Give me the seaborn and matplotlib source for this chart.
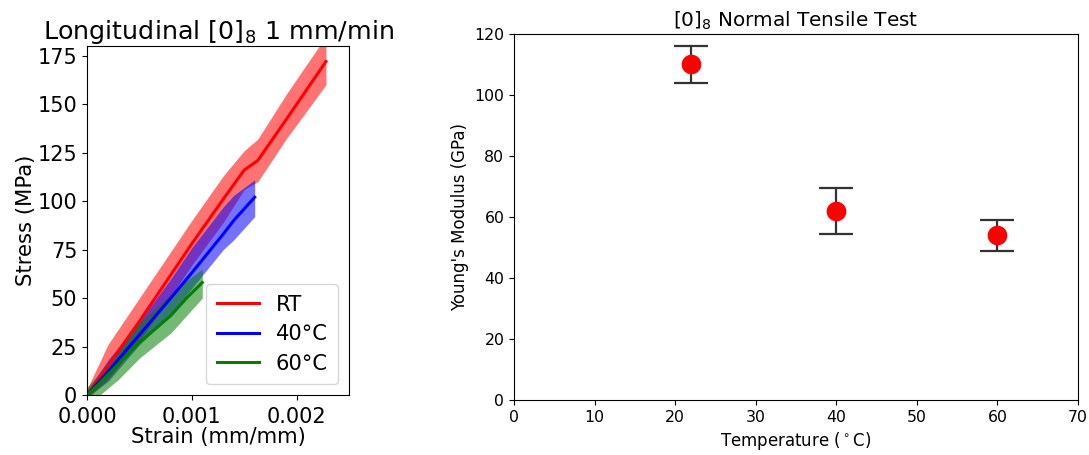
import numpy as np
import pandas as pd
import matplotlib
matplotlib.use("Agg")
import matplotlib.pyplot as plt
import seaborn as sns

# ---- Left panel data: stress-strain curves (mean and band) ----
rt_strain = [0.0, 0.0002, 0.0005, 0.0008, 0.0010, 0.0013, 0.0015, 0.00163, 0.0019, 0.00228]
rt_mean   = [0.0, 15.0, 38.0, 62.0, 78.0, 101.0, 116.0, 121.0, 142.0, 172.0]
rt_upper  = [3.0, 26.0, 50.0, 74.0, 90.0, 113.0, 126.0, 132.0, 155.0, 185.0]
rt_lower  = [-2.0, 8.0, 28.0, 51.0, 67.0, 89.0, 106.0, 110.0, 132.0, 160.0]

t40_strain = [0.0, 0.0002, 0.0005, 0.0008, 0.0010, 0.0013, 0.0014, 0.0016]
t40_mean   = [0.0, 12.0, 31.0, 50.0, 63.0, 83.0, 90.0, 102.0]
t40_upper  = [2.0, 18.0, 38.0, 60.0, 76.0, 97.0, 103.0, 111.0]
t40_lower  = [-1.0, 7.0, 26.0, 42.0, 55.0, 75.0, 80.0, 92.0]

t60_strain = [0.0, 0.0001, 0.0003, 0.0005, 0.0008, 0.00095, 0.0011]
t60_mean   = [0.0, 5.0, 16.0, 27.0, 41.0, 50.0, 58.0]
t60_upper  = [4.0, 10.0, 24.0, 37.0, 52.0, 59.0, 65.0]
t60_lower  = [-3.0, -1.0, 8.0, 19.0, 32.0, 41.0, 50.0]

curve_labels = ["RT", "40°C", "60°C"]
curve_colors = ["red", "blue", "green"]

# ---- Right panel data: Young's modulus vs temperature ----
temperature = [22, 40, 60]
modulus     = [110.0, 62.0, 54.0]
modulus_err = [6.0, 7.5, 5.1]

fig = plt.figure(figsize=(10.89, 4.55), dpi=100)
ax1 = fig.add_axes([0.0799, 0.1319, 0.2406, 0.767])
ax2 = fig.add_axes([0.472, 0.1209, 0.5179, 0.8044])

curves = [
    (rt_strain, rt_mean, rt_upper, rt_lower),
    (t40_strain, t40_mean, t40_upper, t40_lower),
    (t60_strain, t60_mean, t60_upper, t60_lower),
]
for (xs, m, up, lo), lab, col in zip(curves, curve_labels, curve_colors):
    df = pd.DataFrame({"strain": xs, "stress": m})
    ax1.fill_between(xs, lo, up, color=col, alpha=0.55, linewidth=0)
    sns.lineplot(data=df, x="strain", y="stress", ax=ax1, color=col,
                 linewidth=2.2, label=lab)

ax1.set_xlim(0, 0.0025)
ax1.set_ylim(0, 180)
ax1.set_xticks([0, 0.001, 0.002])
ax1.set_xticklabels(["0.000", "0.001", "0.002"])
ax1.set_yticks([0, 25, 50, 75, 100, 125, 150, 175])
ax1.tick_params(labelsize=15)
ax1.tick_params(axis="x", pad=5)
ax1.set_xlabel("Strain (mm/mm)", fontsize=15.2, labelpad=0)
ax1.set_ylabel("Stress (MPa)", fontsize=15.2, labelpad=1)
ax1.set_title("Longitudinal [0]$_8$ 1 mm/min", fontsize=18.3, pad=3)
ax1.legend(loc="lower right", fontsize=15.2, handlelength=2.0, borderpad=0.5,
           labelspacing=0.45, handletextpad=0.8)

df2 = pd.DataFrame({"T": temperature, "E": modulus})
ax2.errorbar(temperature, modulus, yerr=modulus_err, fmt="none",
             ecolor="#333333", elinewidth=1.6, capsize=12, capthick=1.6, zorder=2)
sns.scatterplot(data=df2, x="T", y="E", ax=ax2, color="red", s=200,
                edgecolor="red", linewidth=0, zorder=3)
ax2.set_xlim(0, 70)
ax2.set_ylim(0, 120)
ax2.set_xticks(range(0, 71, 10))
ax2.set_yticks(range(0, 121, 20))
ax2.tick_params(labelsize=11.3)
ax2.set_xlabel("Temperature ($^\\circ$C)", fontsize=12)
ax2.set_ylabel("Young's Modulus (GPa)", fontsize=12)
ax2.set_title("[0]$_8$ Normal Tensile Test", fontsize=14.4, pad=5)

fig.savefig("out.png", dpi=100)
